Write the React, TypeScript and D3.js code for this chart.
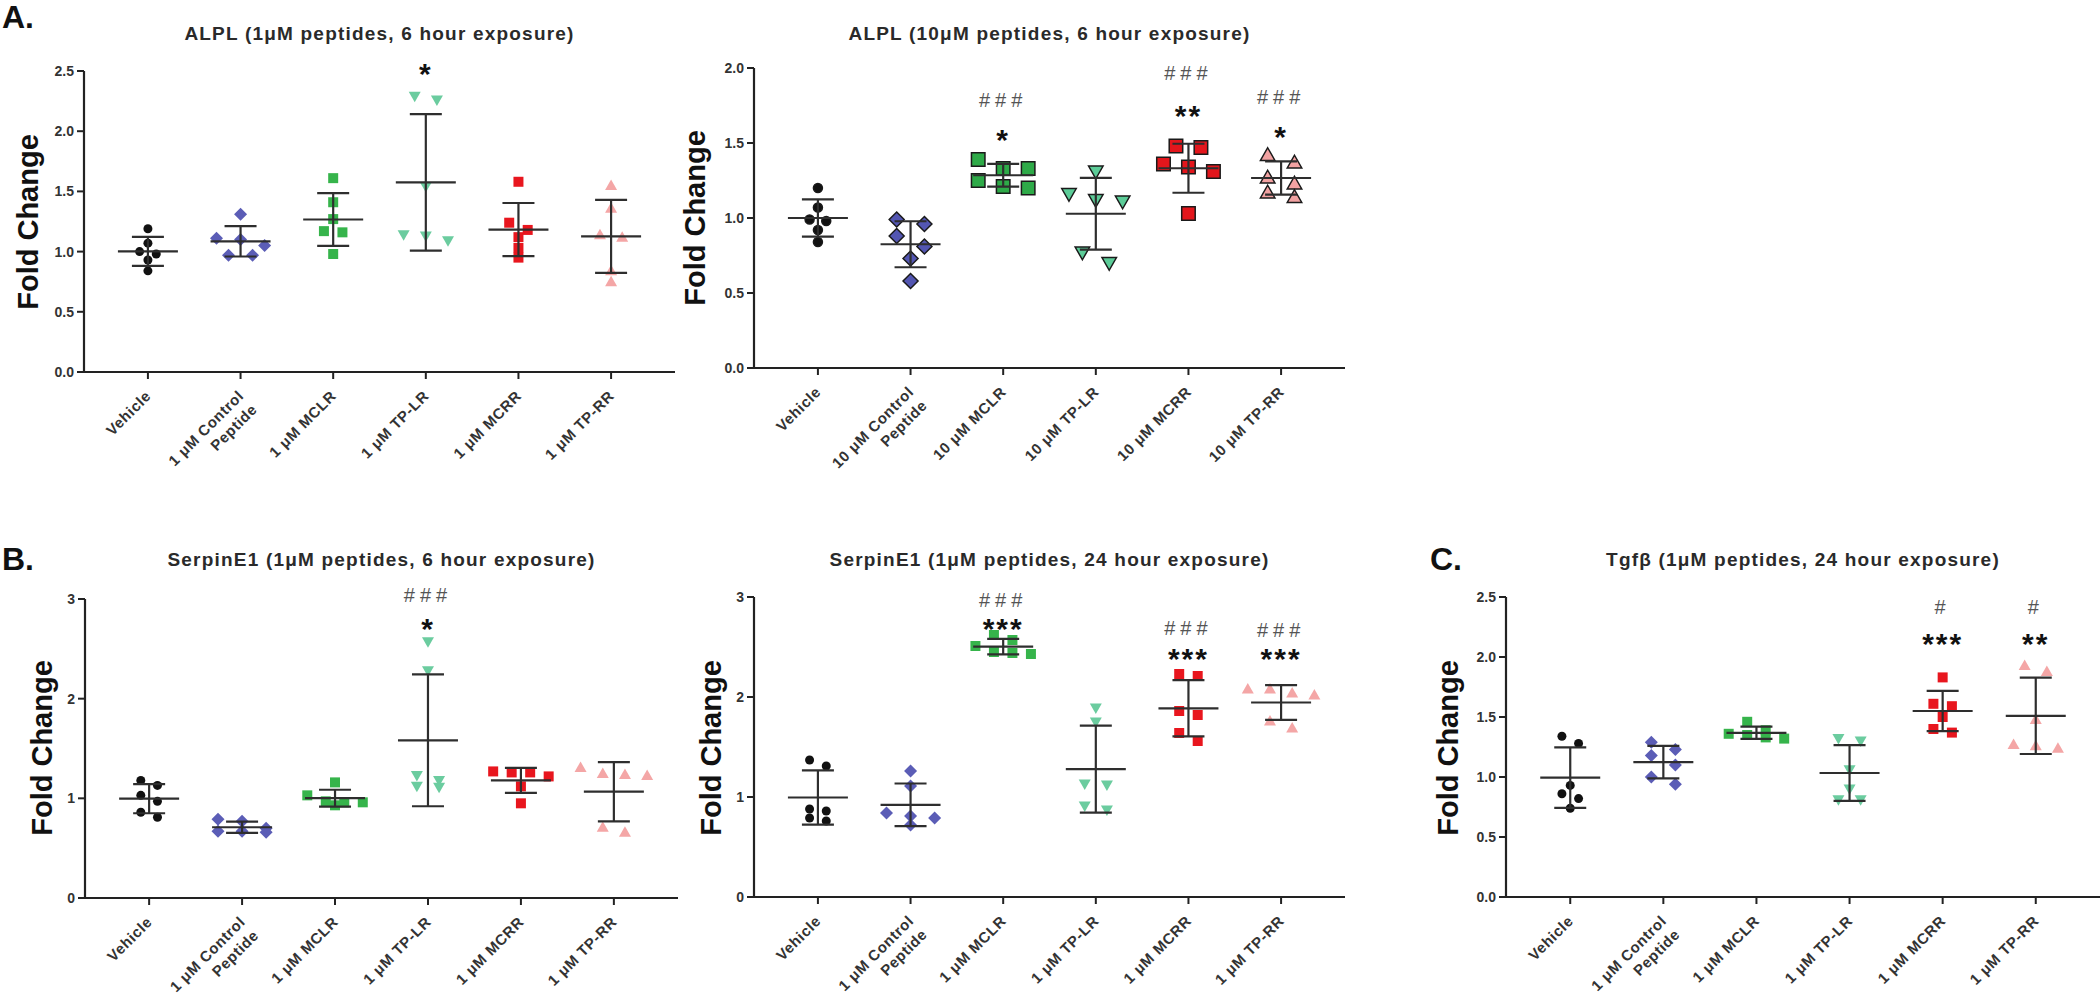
import React from 'react';
import * as d3 from 'd3';

const FONT = "'Liberation Sans', Arial, Helvetica, sans-serif";

// ---------- categories ----------
const groups1uM = ['Vehicle', '1 μM Control\nPeptide', '1 μM MCLR', '1 μM TP-LR', '1 μM MCRR', '1 μM TP-RR'];
const groups10uM = ['Vehicle', '10 μM Control\nPeptide', '10 μM MCLR', '10 μM TP-LR', '10 μM MCRR', '10 μM TP-RR'];

// ---------- series values (fold change, n = 6 per group) ----------
const alpl1uM6h = [
  [1.19, 1.07, 1.0, 0.98, 0.93, 0.84],
  [1.31, 1.11, 1.10, 1.05, 0.97, 0.97],
  [1.61, 1.41, 1.27, 1.17, 1.16, 0.98],
  [2.29, 2.26, 1.54, 1.14, 1.13, 1.09],
  [1.58, 1.24, 1.18, 1.12, 1.03, 0.95],
  [1.55, 1.36, 1.14, 1.12, 0.84, 0.75],
];
const alpl10uM6h = [
  [1.20, 1.07, 0.99, 0.98, 0.92, 0.84],
  [0.99, 0.96, 0.88, 0.81, 0.73, 0.58],
  [1.39, 1.33, 1.33, 1.25, 1.21, 1.20],
  [1.31, 1.16, 1.12, 1.11, 0.77, 0.70],
  [1.48, 1.47, 1.36, 1.34, 1.31, 1.03],
  [1.42, 1.37, 1.27, 1.23, 1.17, 1.14],
];
const serpin1uM6h = [
  [1.18, 1.13, 1.03, 0.97, 0.86, 0.81],
  [0.79, 0.77, 0.70, 0.67, 0.67, 0.66],
  [1.16, 1.03, 0.97, 0.96, 0.96, 0.93],
  [2.57, 2.28, 1.23, 1.18, 1.12, 1.11],
  [1.27, 1.26, 1.26, 1.22, 1.12, 0.95],
  [1.31, 1.25, 1.24, 1.23, 0.71, 0.66],
];
const serpin1uM24h = [
  [1.37, 1.31, 0.88, 0.86, 0.79, 0.76],
  [1.26, 1.11, 0.84, 0.81, 0.79, 0.72],
  [2.62, 2.57, 2.51, 2.45, 2.44, 2.43],
  [1.89, 1.75, 1.13, 1.12, 0.91, 0.87],
  [2.23, 2.21, 1.86, 1.82, 1.64, 1.56],
  [2.08, 2.08, 2.04, 2.02, 1.76, 1.69],
];
const tgfb1uM24h = [
  [1.34, 1.28, 0.93, 0.86, 0.82, 0.74],
  [1.29, 1.23, 1.18, 1.10, 1.00, 0.94],
  [1.46, 1.39, 1.36, 1.35, 1.33, 1.32],
  [1.32, 1.30, 1.06, 0.90, 0.81, 0.81],
  [1.83, 1.61, 1.59, 1.50, 1.40, 1.37],
  [1.93, 1.88, 1.48, 1.27, 1.26, 1.24],
];

// ---------- significance marks (group index, label, level in fold-change units) ----------
const alpl1uM6hMarks = [{ group: 3, text: '*', at: 2.54 }];
const alpl10uM6hMarks = [
  { group: 2, text: '###', at: 1.79 }, { group: 2, text: '*', at: 1.57 },
  { group: 4, text: '###', at: 1.97 }, { group: 4, text: '**', at: 1.73 },
  { group: 5, text: '###', at: 1.81 }, { group: 5, text: '*', at: 1.59 },
];
const serpin6hMarks = [{ group: 3, text: '###', at: 3.04 }, { group: 3, text: '*', at: 2.77 }];
const serpin24hMarks = [
  { group: 2, text: '###', at: 2.97 }, { group: 2, text: '***', at: 2.75 },
  { group: 4, text: '###', at: 2.69 }, { group: 4, text: '***', at: 2.45 },
  { group: 5, text: '###', at: 2.67 }, { group: 5, text: '***', at: 2.45 },
];
const tgfbMarks = [
  { group: 4, text: '#', at: 2.42 }, { group: 4, text: '***', at: 2.17 },
  { group: 5, text: '#', at: 2.42 }, { group: 5, text: '**', at: 2.17 },
];

// ---------- tick values ----------
const ticks25 = [0, 0.5, 1, 1.5, 2, 2.5];
const ticks20 = [0, 0.5, 1, 1.5, 2];
const ticks3 = [0, 1, 2, 3];

// ---------- styles ----------
const SHAPES = ['circle', 'diamond', 'square', 'triDown', 'square', 'triUp'];
const COLORS = ['#111111', '#5b5db6', '#36b44b', '#6bcc9f', '#e8161e', '#f4a6a6'];
const COLORS_OUT = ['#111111', '#5356b2', '#2eaa48', '#5ccc98', '#e3161c', '#f2a2a2'];
const SIZE = { circle: 9, diamond: 13, square: 10, triUp: 12, triDown: 12 };
const SIZE_OUT = { circle: 9, diamond: 15, square: 13.5, triUp: 14.5, triDown: 14.5 };

function shapePath(shape: string, s: number): string {
  const h = s / 2;
  switch (shape) {
    case 'circle': {
      const p = d3.path();
      p.arc(0, 0, h, 0, 2 * Math.PI);
      p.closePath();
      return p.toString();
    }
    case 'square':
      return `M${-h},${-h}H${h}V${h}H${-h}Z`;
    case 'diamond':
      return `M0,${-h}L${h},0L0,${h}L${-h},0Z`;
    case 'triUp':
      return `M0,${-h}L${h},${h * 0.75}L${-h},${h * 0.75}Z`;
    default:
      return `M0,${h}L${h},${-h * 0.75}L${-h},${-h * 0.75}Z`;
  }
}

// Prism-like scatter: points with overlapping heights are spread in centered rows
function swarm(vals: number[], y: (v: number) => number, size: number, gap: number): number[] {
  const idx = vals.map((_, i) => i).sort((a, b) => vals[b] - vals[a]);
  const off = new Array(vals.length).fill(0);
  let i = 0;
  while (i < idx.length) {
    const row = [idx[i]];
    let j = i + 1;
    while (j < idx.length && Math.abs(y(vals[idx[j]]) - y(vals[idx[i]])) < size * 0.85) {
      row.push(idx[j]);
      j++;
    }
    row.forEach((k, r) => {
      off[k] = (r - (row.length - 1) / 2) * gap;
    });
    i = j;
  }
  return off;
}

interface Mark { group: number; text: string; at: number }
interface PanelCfg {
  title: string;
  xL: number; xR: number; yB: number; yT: number;
  yMax: number; ticks: number[]; fmt: string;
  groups: string[]; data: number[][]; outlined: boolean;
  titleY: number; ylabX: number; ylabY: number;
  marks: Mark[];
}

function Panel({ cfg }: { cfg: PanelCfg }) {
  const { xL, xR, yB, yT, yMax, ticks, fmt, groups, data, outlined, title, titleY, ylabX, ylabY, marks } = cfg;
  const x = d3.scalePoint<number>().domain(d3.range(groups.length)).range([xL, xR]).padding(0.69);
  const y = d3.scaleLinear().domain([0, yMax]).range([yB, yT]);
  const f = d3.format(fmt);
  const axisColor = '#222';
  const barColor = '#2e2e2e';

  return (
    <g>
      {/* title */}
      <text x={(xL + xR) / 2} y={titleY} textAnchor="middle" fontFamily={FONT} fontWeight="bold"
        fontSize={19} letterSpacing={1.2} fill="#2a2a2a">{title}</text>
      {/* y label */}
      <text transform={`translate(${ylabX},${ylabY}) rotate(-90)`} textAnchor="middle" dominantBaseline="central"
        fontFamily={FONT} fontWeight="bold" fontSize={29} fill="#111">Fold Change</text>
      {/* y axis */}
      <line x1={xL} x2={xL} y1={yB} y2={yT} stroke={axisColor} strokeWidth={2.2} />
      {ticks.map((t) => (
        <g key={t}>
          <line x1={xL - 7} x2={xL} y1={y(t)} y2={y(t)} stroke={axisColor} strokeWidth={2} />
          <text x={xL - 10} y={y(t)} dy="0.36em" textAnchor="end" fontFamily={FONT} fontWeight="bold"
            fontSize={14} fill="#333">{f(t)}</text>
        </g>
      ))}
      {/* x axis */}
      <line x1={xL - 1} x2={xR} y1={yB} y2={yB} stroke={axisColor} strokeWidth={2.2} />
      {groups.map((g, i) => (
        <g key={g}>
          <line x1={x(i)} x2={x(i)} y1={yB} y2={yB + 7} stroke={axisColor} strokeWidth={2} />
          <text transform={`translate(${(x(i) as number) + 4},${yB + 25}) rotate(-45)`} textAnchor="end"
            fontFamily={FONT} fontWeight="bold" fontSize={15} letterSpacing={0.6} fill="#333">
            {g.split('\n').map((ln, k) => (
              <tspan key={k} x={0} dy={k === 0 ? 0 : 19}>{ln}</tspan>
            ))}
          </text>
        </g>
      ))}
      {/* points */}
      {data.map((vals, gi) => {
        const shape = SHAPES[gi];
        const s = (outlined ? SIZE_OUT : SIZE)[shape as keyof typeof SIZE];
        const offs = swarm(vals, y, s, s * 1.85);
        const d = shapePath(shape, s);
        return (
          <g key={gi}>
            {vals.map((v, k) => (
              <path key={k} d={d} transform={`translate(${(x(gi) as number) + offs[k]},${y(v)})`}
                fill={(outlined ? COLORS_OUT : COLORS)[gi]}
                stroke={outlined ? '#1a1a1a' : 'none'} strokeWidth={outlined ? 1.5 : 0} />
            ))}
          </g>
        );
      })}
      {/* mean ± SD */}
      {data.map((vals, gi) => {
        const m = d3.mean(vals) as number;
        const sd = d3.deviation(vals) as number;
        const cx = x(gi) as number;
        return (
          <g key={'e' + gi} stroke={barColor} strokeWidth={2.2}>
            <line x1={cx - 30} x2={cx + 30} y1={y(m)} y2={y(m)} />
            <line x1={cx} x2={cx} y1={y(m - sd)} y2={y(m + sd)} />
            <line x1={cx - 16} x2={cx + 16} y1={y(m + sd)} y2={y(m + sd)} />
            <line x1={cx - 16} x2={cx + 16} y1={y(m - sd)} y2={y(m - sd)} />
          </g>
        );
      })}
      {/* significance marks */}
      {marks.map((mk, i) => {
        const star = mk.text.startsWith('*');
        const fs = star ? 30 : 20;
        return (
          <text key={i} x={x(mk.group)} y={y(mk.at) + (star ? 0.58 : 0.36) * fs} textAnchor="middle"
            fontFamily={FONT} fontWeight={star ? 'bold' : 'normal'} fontSize={fs}
            letterSpacing={star ? 2 : 5} fill={star ? '#111' : '#555'}>{mk.text}</text>
        );
      })}
    </g>
  );
}

const panels: PanelCfg[] = [
  {
    title: 'ALPL (1μM peptides, 6 hour exposure)', xL: 84, xR: 675, yB: 372, yT: 71, yMax: 2.5,
    ticks: ticks25, fmt: '.1f', groups: groups1uM, data: alpl1uM6h, outlined: false,
    titleY: 40, ylabX: 28, ylabY: 222, marks: alpl1uM6hMarks,
  },
  {
    title: 'ALPL (10μM peptides, 6 hour exposure)', xL: 754, xR: 1345, yB: 368, yT: 68, yMax: 2.0,
    ticks: ticks20, fmt: '.1f', groups: groups10uM, data: alpl10uM6h, outlined: true,
    titleY: 40, ylabX: 695, ylabY: 218, marks: alpl10uM6hMarks,
  },
  {
    title: 'SerpinE1 (1μM peptides, 6 hour exposure)', xL: 85, xR: 678, yB: 898, yT: 599, yMax: 3,
    ticks: ticks3, fmt: 'd', groups: groups1uM, data: serpin1uM6h, outlined: false,
    titleY: 566, ylabX: 42, ylabY: 748, marks: serpin6hMarks,
  },
  {
    title: 'SerpinE1 (1μM peptides, 24 hour exposure)', xL: 754, xR: 1345, yB: 897, yT: 597, yMax: 3,
    ticks: ticks3, fmt: 'd', groups: groups1uM, data: serpin1uM24h, outlined: false,
    titleY: 566, ylabX: 711, ylabY: 748, marks: serpin24hMarks,
  },
  {
    title: 'Tgfβ (1μM peptides, 24 hour exposure)', xL: 1506, xR: 2100, yB: 897, yT: 597, yMax: 2.5,
    ticks: ticks25, fmt: '.1f', groups: groups1uM, data: tgfb1uM24h, outlined: false,
    titleY: 566, ylabX: 1448, ylabY: 748, marks: tgfbMarks,
  },
];

const letters = [
  { text: 'A.', x: 2, y: 28 },
  { text: 'B.', x: 2, y: 570 },
  { text: 'C.', x: 1430, y: 570 },
];

export default function App() {
  return (
    <svg width={2100} height={995} viewBox="0 0 2100 995"
      style={{ position: 'absolute', left: 0, top: 0, background: '#fff', display: 'block' }}>
      <rect x={0} y={0} width={2100} height={995} fill="#fff" />
      {letters.map((l) => (
        <text key={l.text} x={l.x} y={l.y} fontFamily={FONT} fontWeight="bold" fontSize={32} fill="#111">{l.text}</text>
      ))}
      {panels.map((p) => <Panel key={p.title} cfg={p} />)}
    </svg>
  );
}
